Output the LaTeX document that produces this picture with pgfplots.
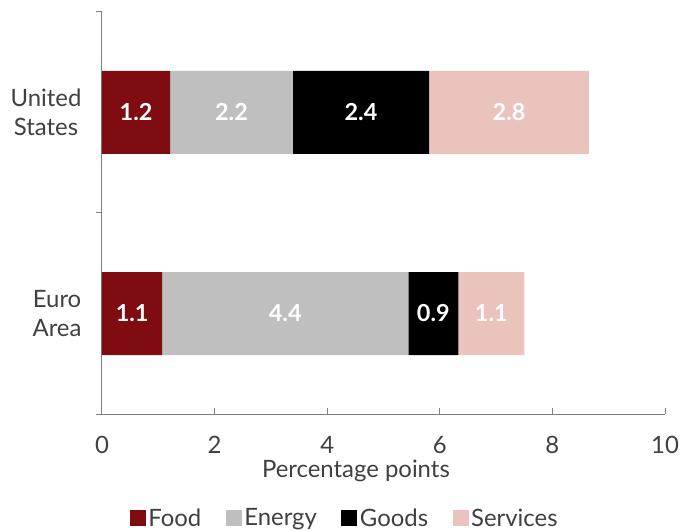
\documentclass[border=0pt]{standalone}
\usepackage{fontspec}
\setmainfont{Lato}
\usepackage{pgfplots}
\pgfplotsset{compat=1.18}
\definecolor{food}{HTML}{7E0C11}
\definecolor{energy}{HTML}{BFBFBF}
\definecolor{goods}{HTML}{000000}
\definecolor{services}{HTML}{EAC3BD}
\definecolor{axisgray}{HTML}{808080}
\definecolor{txt}{HTML}{404040}
\newcommand{\bigf}{\fontsize{24}{29}\selectfont}
\begin{document}
\begin{tikzpicture}
\begin{axis}[name=ax, at={(0,0)}, anchor=south west,
 scale only axis, width=563bp, height=402bp,
 xmin=0, xmax=10, ymin=-0.5, ymax=1.5,
 xbar stacked, bar width=83bp,
 axis lines*=left, axis line style={axisgray, line width=1bp},
 tick style={axisgray, line width=1bp},
 xtick={0,2,...,10}, xtick align=inside, major tick length=6bp,
 ytick={-0.5,0.5,1.5}, yticklabels={}, ytick align=outside,
 extra y ticks={0,1}, extra y tick labels={Euro\\Area, United\\States},
 extra y tick style={major tick length=0pt},
 yticklabel style={align=center, font=\bigf, text=txt, xshift=-17bp},
 xticklabel style={font=\bigf, text=txt, yshift=-19bp},
 /pgf/number format/assume math mode=true,
 xlabel={Percentage points},
 xlabel style={at={(axis description cs:0.451,-0.142)}, anchor=center, font=\bigf, text=txt},
 legend style={at={(axis description cs:0.4316,-0.259)}, anchor=center, legend columns=-1, draw=none, font=\bigf, text=txt,
   /tikz/every even column/.append style={column sep=22bp}, nodes={inner sep=2.5bp}},
 legend image code/.code={\fill[#1, draw=none] (0bp,-8bp) rectangle (16bp,8bp);},
]
\addplot[fill=food, draw=none] coordinates {(1.21,1) (1.07,0)};
\addplot[fill=energy, draw=none] coordinates {(2.18,1) (4.37,0)};
\addplot[fill=goods, draw=none] coordinates {(2.42,1) (0.89,0)};
\addplot[fill=services, draw=none] coordinates {(2.84,1) (1.17,0)};
\legend{Food, Energy, Goods, Services}
\end{axis}
\begin{axis}[at={(0,0)}, anchor=south west,
 scale only axis, width=563bp, height=402bp,
 xmin=0, xmax=10, ymin=-0.5, ymax=1.5, hide axis]
\addplot[draw=none, mark=none, nodes near coords, point meta=explicit symbolic,
 nodes near coords style={anchor=center, text=white, font=\fontsize{23.5}{28}\selectfont\bfseries}]
 coordinates {(0.605,1)[1.2] (2.30,1)[2.2] (4.60,1)[2.4] (7.23,1)[2.8]
              (0.535,0)[1.1] (3.255,0)[4.4] (5.885,0)[0.9] (6.915,0)[1.1]};
\end{axis}
\pgfresetboundingbox
\path (ax.south west) ++(-102bp,-117bp) rectangle ++(680bp,531bp);
\end{tikzpicture}
\end{document}
